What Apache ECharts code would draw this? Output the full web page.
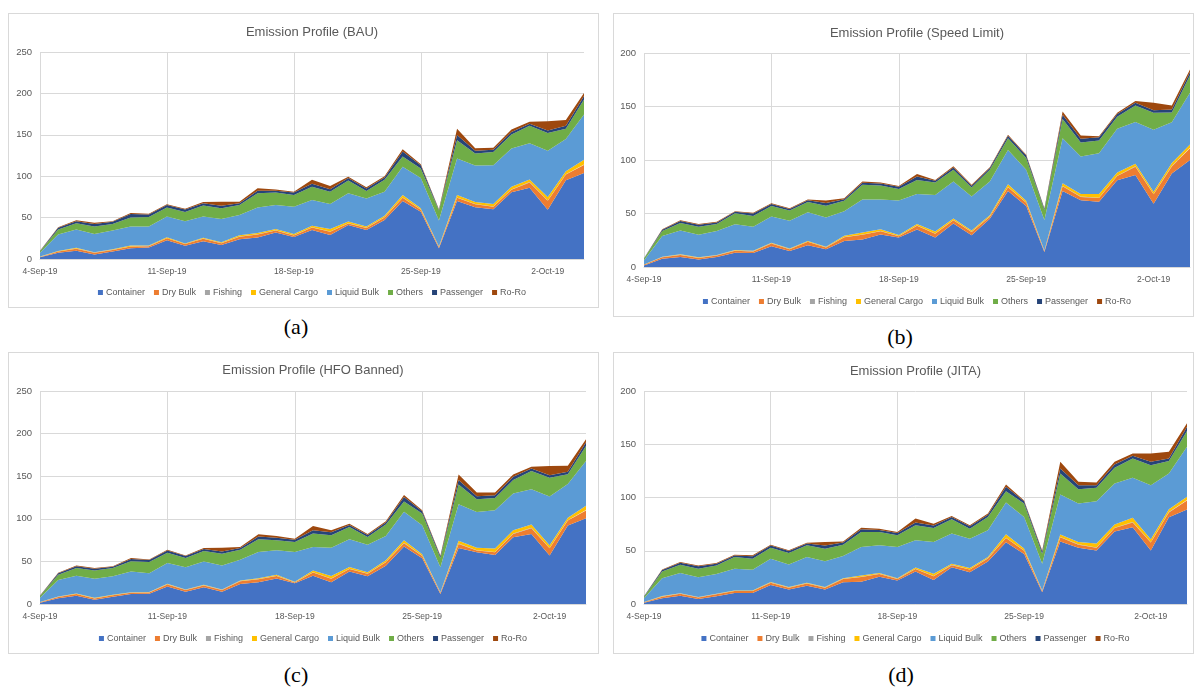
<!DOCTYPE html>
<html>
<head>
<meta charset="utf-8">
<script src="https://cdn.jsdelivr.net/npm/echarts@6/dist/echarts.min.js"></script>
<style>
  html, body { margin: 0; padding: 0; background: #fff; width: 1195px; height: 691px; overflow: hidden; position: relative; }
  .box { position: absolute; border: 1px solid #d9d9d9; box-sizing: border-box; }
  .chart { position: absolute; }
  .cap { position: absolute; font-family: "Liberation Serif", "Times New Roman", serif; font-size: 22px; color: #000; transform: translate(-50%, -50%); line-height: 1; }
</style>
</head>
<body>
<div class="box" style="left:8px;top:13px;width:591px;height:295px"></div>
<div class="box" style="left:613px;top:13px;width:581px;height:304px"></div>
<div class="box" style="left:8px;top:352px;width:591px;height:302px"></div>
<div class="box" style="left:613px;top:352px;width:581px;height:302px"></div>

<div id="chartA" class="chart" style="left:8px;top:13px;width:608px;height:294px"></div>
<div id="chartB" class="chart" style="left:613px;top:13px;width:608px;height:303px"></div>
<div id="chartC" class="chart" style="left:8px;top:352px;width:610px;height:301px"></div>
<div id="chartD" class="chart" style="left:613px;top:352px;width:605px;height:301px"></div>

<div class="cap" style="left:296px;top:327px">(a)</div>
<div class="cap" style="left:900px;top:337px">(b)</div>
<div class="cap" style="left:296px;top:675px">(c)</div>
<div class="cap" style="left:901px;top:675px">(d)</div>

<script>
// Daily dates on the horizontal axis
const dates = ['4-Sep-19','5-Sep-19','6-Sep-19','7-Sep-19','8-Sep-19','9-Sep-19','10-Sep-19','11-Sep-19','12-Sep-19','13-Sep-19','14-Sep-19','15-Sep-19','16-Sep-19','17-Sep-19','18-Sep-19','19-Sep-19','20-Sep-19','21-Sep-19','22-Sep-19','23-Sep-19','24-Sep-19','25-Sep-19','26-Sep-19','27-Sep-19','28-Sep-19','29-Sep-19','30-Sep-19','1-Oct-19','2-Oct-19','3-Oct-19','4-Oct-19'];

const shipTypes = ['Container','Dry Bulk','Fishing','General Cargo','Liquid Bulk','Others','Passenger','Ro-Ro'];

// Business as usual
const bauContainer    = [2,7.5,10,5.5,9,13,14,22.5,16,21.5,17,24,26,32,26.5,35,29,41,35,47,70,57,13,70,62.5,60,80.5,86,59.5,95,104];
const bauDryBulk      = [0.5,1.5,2.5,2,2,2,1.5,2.5,2,3,2,3,3.5,2.5,2,3,4,2,2.5,3,4,2.5,1.5,4,3.5,3,3,6.5,11,7,9.5];
const bauFishing      = [0.1,0.2,0.2,0.2,0.2,0.2,0.2,0.2,0.2,0.2,0.2,0.2,0.3,0.3,0.2,0.3,0.3,0.3,0.2,0.3,0.4,0.3,0.1,0.4,0.3,0.3,0.4,0.4,0.3,0.4,0.5];
const bauGeneralCargo = [0.3,0.5,1,0.5,0.7,1,0.5,1,0.5,1,1,1.5,1.5,1.5,1.5,2,3,2,1.5,2,3,1.5,0.5,3,2.5,3,3.5,3,4,3.5,6];
const bauLiquidBulk   = [4.5,20,22,22,22.5,23,23,25,27,25.5,28,24.5,31,29,33,31,30,34,34,29,34,36.5,31.5,44,44,47,46,44,56,39,54.5];
const bauOthers       = [2,6,7.5,9,8,11,11.5,11,11,13.5,13,12,17,15,14,16,15,15.5,9,14.5,12.5,11.5,12,22,14.5,16,17,21,21.5,12.5,18];
const bauPassenger    = [0.3,2,2.5,3,2.5,4,3,3,3,2.5,3,2,3,2,3,3.5,3,3,3,2.5,6,4,1,6.5,3.5,2.5,3,2.5,3,3.5,4.5];
const bauRoRo         = [0.2,0.5,1,1.5,0.8,1.5,1,1,1,1.5,5,2,3,1.5,1,5,4,1.5,1.5,1.5,2.5,1,0.5,7.5,3,2.5,3,2.5,11,7,3.5];

// Speed limit
const spdContainer    = [1.5,7.8,9.4,6.9,9.4,13.4,13,19.4,15,20.3,16.5,24.4,25.6,30.3,27.5,35,27.5,40.6,29.7,45,71,57,14,71,62.5,61,81,86,59,87.5,100];
const spdDryBulk      = [0.5,1.3,1.9,1.6,1.3,1.8,1.6,2.6,1.6,3.2,1.8,3.5,4.5,3.2,1.2,3.5,3.5,3,3,2,3.5,3,1,4.5,3,3.5,4,7.8,9,6.5,11];
const spdFishing      = [0.1,0.2,0.2,0.2,0.2,0.2,0.2,0.2,0.2,0.2,0.2,0.2,0.2,0.2,0.2,0.3,0.2,0.3,0.2,0.3,0.3,0.3,0.1,0.3,0.3,0.3,0.3,0.3,0.3,0.3,0.4];
const spdGeneralCargo = [0.3,0.3,0.3,0.3,0.3,0.4,0.4,0.5,0.4,0.5,0.5,1.1,1.9,1.5,1,1.5,2,1.4,1.3,1,2.5,1.6,0.4,2.5,2.5,3.5,3,2.3,2,3,3];
const spdLiquidBulk   = [4,19.3,22.4,21.2,22.4,24.1,22.5,24.5,26,27,27.2,23,31,28,32.3,28,34,34.7,31.6,31.7,32,29,28.4,42,35,38,40.8,39,58,38,48.5];
const spdOthers       = [1.5,4.7,7,7.5,6.6,10.3,10,9.9,9.5,9.6,11,9.6,13.6,13,10.8,13,11.8,10.9,8.4,10.9,11,11,9.3,18,13,12,11.3,15.6,15.8,9,16.3];
const spdPassenger    = [0.2,1.2,1.9,1.7,1.5,1.5,2.3,1.8,1.6,1.6,2.5,1.6,2,1.8,2.1,3.3,1.5,2,1.8,1.6,2.3,2.2,1.2,4,3.5,3,2.5,2.6,2.3,2.9,3];
const spdRoRo         = [0.1,0.4,0.5,0.8,0.5,0.5,0.8,0.7,0.6,0.8,2.5,0.8,1.1,1,0.7,2.3,0.8,1.2,0.8,0.8,1.1,0.9,0.5,3,3,1,1.3,1.5,7,3.8,2.3];

// HFO banned
const hfoContainer    = [1.5,6.7,9.8,5,8.6,11.8,12,20.4,14.5,19.6,14.5,23.5,25.5,30,24.3,33.3,25.5,38,32.5,45,67.4,53.7,11.8,65.8,60.7,57.6,78.4,82.3,56.8,92,100.7];
const hfoDryBulk      = [0.5,1.5,1.8,1.6,1.6,1.5,1.6,2.5,1.9,2.2,1.9,3.2,3.5,3,1,3.7,4,3,3,4,4,2.6,1.5,4.7,2,3,3.8,6.7,8.6,6,9];
const hfoFishing      = [0.1,0.2,0.2,0.2,0.2,0.2,0.2,0.2,0.2,0.2,0.2,0.2,0.3,0.3,0.2,0.3,0.3,0.3,0.2,0.3,0.4,0.3,0.1,0.4,0.3,0.3,0.4,0.4,0.3,0.4,0.5];
const hfoGeneralCargo = [0.3,0.4,0.4,0.4,0.4,0.4,0.4,0.6,0.4,0.5,0.4,0.7,1,1,0.7,2,3,2,1.7,2,3.1,1.7,0.5,3.2,3.1,4.1,4,3.9,3.2,2.7,5.1];
const hfoLiquidBulk   = [5,19.4,21,22.4,21.9,24.3,22,24.5,26.2,27.5,28.2,24.3,30.7,28.7,34.7,27.6,33.3,32.6,32.2,28.5,33.3,34,29.2,43.1,42,45,43.1,41.5,57.4,39.6,52.5];
const hfoOthers       = [2,6,9,9.6,9.5,12,13,12,10.7,12.2,13.8,11.8,14.9,11.8,11.8,15.7,14.5,14.4,9,13.4,12.2,13.8,11,23.2,14.8,14.3,15.7,21.2,22,11.7,17.7];
const hfoPassenger    = [0.3,1.8,2.2,2.2,1.5,2.7,2.3,2.5,2.3,2.4,2.5,2,3.2,3,2.6,4,3.5,2.5,2.5,2.6,5.1,2.8,1.9,5,3.6,3.3,4,3,2.8,2.8,4.3];
const hfoRoRo         = [0.2,0.6,0.8,0.8,0.5,1,0.7,1,0.8,1,4.5,1.1,2.7,2,1.3,5,2.4,1.5,1.1,1.3,2.3,1.1,0.9,6.6,4.3,3.2,2.6,2.1,11,7,3.7];

// Just-in-time arrival
const jitContainer    = [1.2,5.3,7.8,4.7,7.2,10.3,10.3,17.9,13.5,17.2,13.5,20.4,21,25.7,22,30.4,22.6,34.5,29.8,39.8,58,47,11,58.6,52.7,50.2,68,72.1,50.2,81.5,88.7];
const jitDryBulk      = [0.4,1.6,1.9,1.4,1.9,1.8,1.8,2,1.8,2,1.8,3,4.3,2.5,1.4,2.5,3.4,2,2.5,3,4,3,1.3,4,3,2.5,3.3,4.5,7.5,4.5,8.5];
const jitFishing      = [0.1,0.2,0.2,0.2,0.2,0.2,0.2,0.2,0.2,0.2,0.2,0.2,0.2,0.2,0.2,0.3,0.2,0.3,0.2,0.3,0.3,0.3,0.1,0.3,0.3,0.3,0.3,0.3,0.3,0.3,0.4];
const jitGeneralCargo = [0.2,0.3,0.3,0.2,0.3,0.4,0.4,0.5,0.4,0.5,0.4,0.6,1.3,0.8,0.6,1,2.2,1.1,1.2,1.1,3.2,1.7,0.3,2.3,2.3,3.7,3,4,2.8,2.7,3.1];
const jitLiquidBulk   = [3.5,16.8,19,18.7,18.6,20.5,19.5,21.9,21.3,24.2,24.3,20.8,26.7,25.9,29.3,25.7,29.8,28.2,27.5,25.1,29.8,29.8,25,37.6,36,39.8,38.6,37.6,50.8,33.6,47];
const jitOthers       = [1.5,6.4,7.7,8,8,10.9,10.3,10.4,10.6,11,11.7,10.7,14.1,12.5,11,14.1,13.2,13.5,9.5,12.5,10.6,12.5,9.4,19.8,13.5,12.6,14.7,18.2,18.7,11.6,14.7];
const jitPassenger    = [0.3,1.4,1.8,2.2,1.6,1.5,2.4,2,1.9,1.8,3.1,2.1,2.7,2,2.2,2.6,2.4,2,2.2,2.1,4.2,2.2,2.2,4.7,3.7,2.5,3.2,2.4,3.2,2.4,4];
const jitRoRo         = [0.1,0.5,0.7,0.8,0.6,0.6,0.8,0.8,0.7,0.7,3.2,1,1.4,1.1,0.9,3.7,1.6,1.1,1,1,2.2,0.8,1,6.2,3.2,2.5,2.4,2.2,7.8,6.3,3.3];

const shipColors = ['#4472C4','#ED7D31','#A5A5A5','#FFC000','#5B9BD5','#70AD47','#264478','#9E480E'];

const FONT = '"Liberation Sans", Arial, sans-serif';
const TEXT_GREY = '#595959';
const GRID_GREY = '#d9d9d9';

function buildOption(title, seriesValues, yMax, layout) {
  return {
    animation: false,
    color: shipColors,
    title: {
      text: title,
      left: 'center',
      top: layout.titleTop,
      textStyle: { fontFamily: FONT, fontSize: 13, fontWeight: 'normal', color: TEXT_GREY }
    },
    legend: {
      data: shipTypes,
      left: 'center',
      top: layout.legendTop,
      icon: 'rect',
      itemWidth: 5,
      itemHeight: 5,
      itemGap: 9,
      textStyle: { fontFamily: FONT, fontSize: 9, color: TEXT_GREY, padding: [0, 0, 0, -2] }
    },
    grid: { left: layout.left, right: layout.right, top: layout.top, bottom: layout.bottom },
    xAxis: {
      type: 'category',
      data: dates,
      boundaryGap: false,
      axisLine: { show: true, lineStyle: { color: GRID_GREY } },
      axisTick: { show: false },
      axisLabel: { interval: 6, fontFamily: FONT, fontSize: 8.5, color: TEXT_GREY, margin: 8 },
      splitLine: { show: true, interval: 6, lineStyle: { color: GRID_GREY, width: 1 } }
    },
    yAxis: {
      type: 'value',
      min: 0,
      max: yMax,
      interval: 50,
      axisLine: { show: false },
      axisTick: { show: false },
      axisLabel: { fontFamily: FONT, fontSize: 9.5, color: TEXT_GREY, margin: 8 },
      splitLine: { lineStyle: { color: GRID_GREY, width: 1 } }
    },
    series: shipTypes.map((name, i) => ({
      name: name,
      type: 'line',
      stack: 'emissions',
      data: seriesValues[i],
      symbol: 'none',
      showSymbol: false,
      lineStyle: { width: 0 },
      areaStyle: { opacity: 1, color: shipColors[i] },
      emphasis: { disabled: true }
    }))
  };
}

const panels = [
  { id: 'chartA', title: 'Emission Profile (BAU)', yMax: 250,
    values: [bauContainer, bauDryBulk, bauFishing, bauGeneralCargo, bauLiquidBulk, bauOthers, bauPassenger, bauRoRo],
    layout: { left: 32, right: 32, top: 39, bottom: 48, titleTop: 8, legendTop: 270 } },
  { id: 'chartB', title: 'Emission Profile (Speed Limit)', yMax: 200,
    values: [spdContainer, spdDryBulk, spdFishing, spdGeneralCargo, spdLiquidBulk, spdOthers, spdPassenger, spdRoRo],
    layout: { left: 31, right: 31, top: 40, bottom: 49, titleTop: 9, legendTop: 279 } },
  { id: 'chartC', title: 'Emission Profile (HFO Banned)', yMax: 250,
    values: [hfoContainer, hfoDryBulk, hfoFishing, hfoGeneralCargo, hfoLiquidBulk, hfoOthers, hfoPassenger, hfoRoRo],
    layout: { left: 32, right: 32, top: 39, bottom: 49, titleTop: 7, legendTop: 277 } },
  { id: 'chartD', title: 'Emission Profile (JITA)', yMax: 200,
    values: [jitContainer, jitDryBulk, jitFishing, jitGeneralCargo, jitLiquidBulk, jitOthers, jitPassenger, jitRoRo],
    layout: { left: 31, right: 31, top: 39, bottom: 49, titleTop: 8, legendTop: 277 } }
];

panels.forEach(p => {
  const chart = echarts.init(document.getElementById(p.id), null, { renderer: 'canvas' });
  chart.setOption(buildOption(p.title, p.values, p.yMax, p.layout));
});
</script>
</body>
</html>
